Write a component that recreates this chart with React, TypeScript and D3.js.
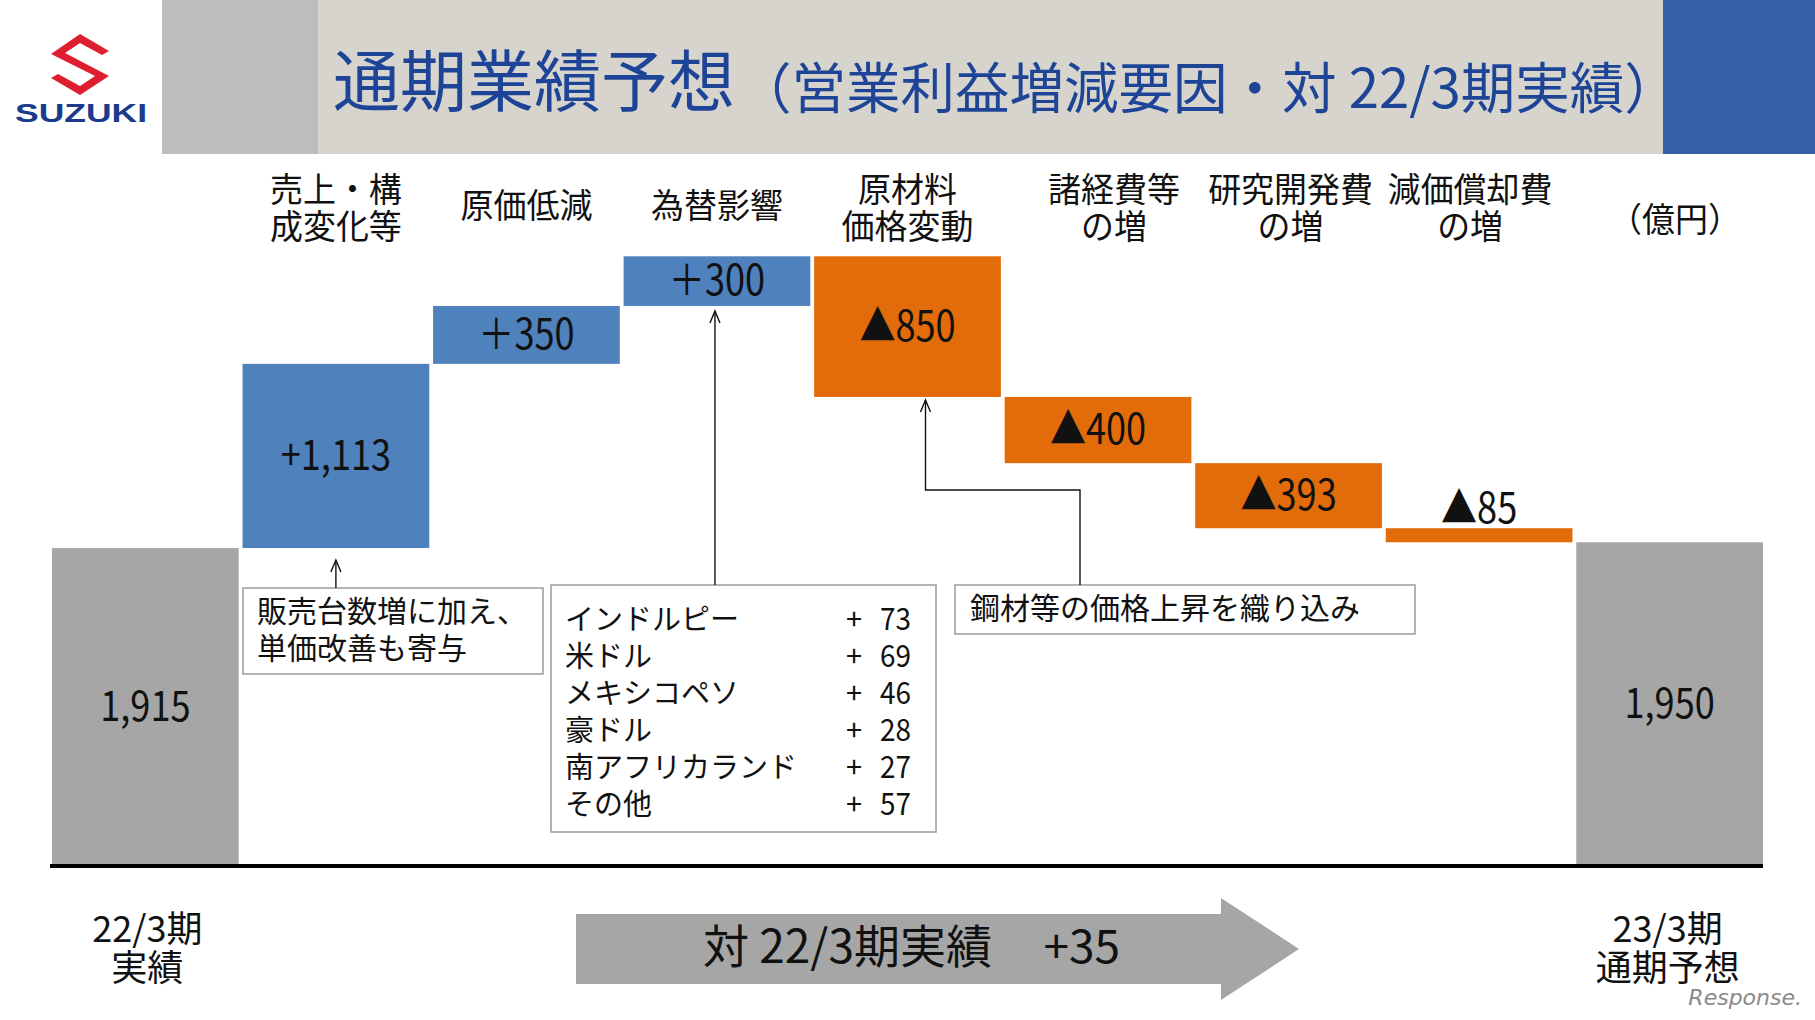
import React from "react";
import * as d3 from "d3";

// ---------- data ----------
const categories = [
  "22/3期実績",
  "売上・構成変化等",
  "原価低減",
  "為替影響",
  "原材料価格変動",
  "諸経費等の増",
  "研究開発費の増",
  "減価償却費の増",
  "23/3期通期予想",
];
const categoryLabelLines: string[][] = [
  [],
  ["売上・構", "成変化等"],
  ["原価低減"],
  ["為替影響"],
  ["原材料", "価格変動"],
  ["諸経費等", "の増"],
  ["研究開発費", "の増"],
  ["減価償却費", "の増"],
  [],
];
const values = [1915, 1113, 350, 300, -850, -400, -393, -85, 1950];
const kinds = ["total", "up", "up", "up", "down", "down", "down", "down", "total"];
const valueLabels = ["1,915", "+1,113", "＋350", "＋300", "▲850", "▲400", "▲393", "▲85", "1,950"];
const fxCurrencies = ["インドルピー", "米ドル", "メキシコペソ", "豪ドル", "南アフリカランド", "その他"];
const fxValues = [73, 69, 46, 28, 27, 57];
const note1Lines = ["販売台数増に加え、", "単価改善も寄与"];
const note3Text = "鋼材等の価格上昇を織り込み";
const bottomLeftLines = ["22/3期", "実績"];
const bottomRightLines = ["23/3期", "通期予想"];
const diffLabel = "対 22/3期実績";
const diffValue = "+35";
const unitLabel = "（億円）";
const titleMain = "通期業績予想";
const titleSub = "（営業利益増減要因・対 22/3期実績）";

// ---------- styles ----------
const W = 1815;
const H = 1020;
const FONT = "'Noto Sans CJK JP', 'Noto Sans', sans-serif";
const COLORS: Record<string, string> = { total: "#a6a6a6", up: "#4f81bd", down: "#e36c0a" };

function CText(props: {
  x: number;
  y: number;
  size: number;
  sx?: number;
  anchor?: "start" | "middle" | "end";
  fill?: string;
  weight?: number | string;
  children: React.ReactNode;
}) {
  const { x, y, size, sx = 1, anchor = "middle", fill = "#111", weight = 400, children } = props;
  return (
    <text
      transform={`translate(${x},${y}) scale(${sx},1)`}
      fontSize={size}
      textAnchor={anchor}
      fill={fill}
      fontWeight={weight}
      fontFamily={FONT}
    >
      {children}
    </text>
  );
}

function ArrowHead({ x, y }: { x: number; y: number }) {
  return <path d={`M${x - 5},${y + 12} L${x},${y} L${x + 5},${y + 12}`} fill="none" stroke="#111" strokeWidth={1.4} />;
}

export default function App() {
  let cum = 0;
  const bars = values.map((v, i) => {
    let start: number, end: number;
    if (kinds[i] === "total") {
      start = 0;
      end = v;
      cum = v;
    } else {
      start = cum;
      end = cum + v;
      cum = end;
    }
    return { key: categories[i], kind: kinds[i], lo: Math.min(start, end), hi: Math.max(start, end), label: valueLabels[i], i };
  });

  const x = d3.scaleBand<string>().domain(categories).range([52, 1763]).paddingInner(0.02).paddingOuter(0);
  const y = d3.scaleLinear().domain([0, 4000]).range([865, 865 - 4000 * 0.1655]);
  const bw = x.bandwidth();
  const cx = (i: number) => (x(categories[i]) as number) + bw / 2;

  const bar = (i: number) => bars[i];

  const box1 = { x: 243, y: 588, w: 300, h: 86 };
  const box2 = { x: 551, y: 585, w: 385, h: 247 };
  const box3 = { x: 955, y: 585, w: 460, h: 49 };

  const fxRowY = (r: number) => box2.y + 34 + r * 37;

  const b1Bottom = y(bar(1).lo);
  const b3Bottom = y(bar(3).lo);
  const b4Bottom = y(bar(4).lo);

  const arrowX3 = cx(4) + 18;
  const elbowY = 490;
  const box3LineX = 1080;

  // slight horizontal nudges of the header labels, as in the original slide
  const labelNudge = (i: number) => (i === 5 ? 16 : i === 7 ? -9 : i === 6 ? 2 : 0);

  return (
    <svg width={W} height={H} style={{ position: "absolute", left: 0, top: 0, background: "#fff" }}>
      <rect x={0} y={0} width={W} height={H} fill="#ffffff" />

      {/* header */}
      <rect x={162} y={0} width={156} height={154} fill="#bdbdbd" />
      <rect x={318} y={0} width={1345} height={154} fill="#d6d4cd" />
      <rect x={1663} y={0} width={152} height={154} fill="#3762a9" />

      {/* logo */}
      <path
        d="M80,34 L109,51 L102,55 L80,43 L65,53 L109,76 L80,95 L51,78 L58,74 L80,86 L95,76 L51,54 Z"
        fill="#de1f30"
      />
      <text x={81} y={122} fontSize={25} fontWeight={900} fill="#1b3a8c" textAnchor="middle" fontFamily="'Liberation Sans', Arial, sans-serif" textLength={132} lengthAdjust="spacingAndGlyphs">
        SUZUKI
      </text>

      {/* title */}
      <text x={333} y={106} fontSize={67} fill="#1d4497" fontFamily={FONT}>
        {titleMain}
      </text>
      <text x={737} y={108} fontSize={54.5} fill="#1d4497" fontFamily={FONT}>
        {titleSub}
      </text>

      {/* category labels */}
      {categoryLabelLines.map((lines, i) =>
        lines.map((ln, j) => {
          const yy = lines.length === 1 ? 218 : 202 + j * 37;
          return (
            <CText key={`c${i}-${j}`} x={cx(i) + labelNudge(i)} y={yy} size={34} sx={0.97}>
              {ln}
            </CText>
          );
        })
      )}
      <CText x={1675} y={232} size={34} sx={0.97}>
        {unitLabel}
      </CText>

      {/* bars */}
      {bars.map((b) => (
        <rect
          key={b.key}
          x={x(b.key)}
          y={y(b.hi)}
          width={bw}
          height={y(b.lo) - y(b.hi)}
          fill={COLORS[b.kind]}
        />
      ))}

      {/* value labels */}
      {bars.map((b) => {
        const h = y(b.lo) - y(b.hi);
        const ly = h < 30 ? y(b.hi) - 19 : (y(b.lo) + y(b.hi)) / 2;
        return (
          <CText key={`v${b.key}`} x={cx(b.i)} y={ly + 14} size={42} sx={0.86} fill="#111">
            {b.label}
          </CText>
        );
      })}

      {/* baseline */}
      <line x1={50} x2={1763} y1={866} y2={866} stroke="#000" strokeWidth={4} />

      {/* annotation 1 */}
      <rect x={box1.x} y={box1.y} width={box1.w} height={box1.h} fill="#fff" stroke="#9a9a9a" strokeWidth={1.5} />
      {note1Lines.map((ln, j) => (
        <CText key={`n1${j}`} x={box1.x + 14} y={box1.y + 34 + j * 37} size={30} anchor="start">
          {ln}
        </CText>
      ))}
      <line x1={cx(1)} x2={cx(1)} y1={box1.y} y2={b1Bottom + 12} stroke="#111" strokeWidth={1.4} />
      <ArrowHead x={cx(1)} y={b1Bottom + 12} />

      {/* annotation 2: fx breakdown */}
      <rect x={box2.x} y={box2.y} width={box2.w} height={box2.h} fill="#fff" stroke="#9a9a9a" strokeWidth={1.5} />
      {fxCurrencies.map((c, r) => (
        <g key={`fx${r}`}>
          <CText x={box2.x + 14} y={fxRowY(r) + 11} size={29} anchor="start">
            {c}
          </CText>
          <CText x={854} y={fxRowY(r) + 11} size={29}>
            +
          </CText>
          <CText x={911} y={fxRowY(r) + 11} size={31} sx={0.9} anchor="end">
            {String(fxValues[r])}
          </CText>
        </g>
      ))}
      <line x1={cx(3) - 2} x2={cx(3) - 2} y1={box2.y} y2={b3Bottom + 5} stroke="#111" strokeWidth={1.4} />
      <ArrowHead x={cx(3) - 2} y={b3Bottom + 5} />

      {/* annotation 3 */}
      <rect x={box3.x} y={box3.y} width={box3.w} height={box3.h} fill="#fff" stroke="#9a9a9a" strokeWidth={1.5} />
      <CText x={box3.x + 15} y={box3.y + 34} size={30} anchor="start">
        {note3Text}
      </CText>
      <path
        d={`M${box3LineX},${box3.y} L${box3LineX},${elbowY} L${arrowX3},${elbowY} L${arrowX3},${b4Bottom + 3}`}
        fill="none"
        stroke="#111"
        strokeWidth={1.4}
      />
      <ArrowHead x={arrowX3} y={b4Bottom + 3} />

      {/* bottom labels */}
      {bottomLeftLines.map((ln, j) => (
        <CText key={`bl${j}`} x={cx(0) + 2} y={942 + j * 39} size={36}>
          {ln}
        </CText>
      ))}
      {bottomRightLines.map((ln, j) => (
        <CText key={`br${j}`} x={cx(8) - 2} y={942 + j * 39} size={36}>
          {ln}
        </CText>
      ))}

      {/* big arrow */}
      <path d="M576,914 L1221,914 L1221,898 L1299,949 L1221,1000 L1221,984 L576,984 Z" fill="#a6a6a6" />
      <CText x={703} y={963} size={46} anchor="start">
        {diffLabel}
      </CText>
      <CText x={1120} y={963} size={46} anchor="end">
        {diffValue}
      </CText>

      {/* watermark */}
      <text x={1802} y={1005} fontSize={22} fill="#8a8a8a" textAnchor="end" fontFamily="'DejaVu Sans', sans-serif" fontStyle="italic">
        Response.
      </text>
    </svg>
  );
}
